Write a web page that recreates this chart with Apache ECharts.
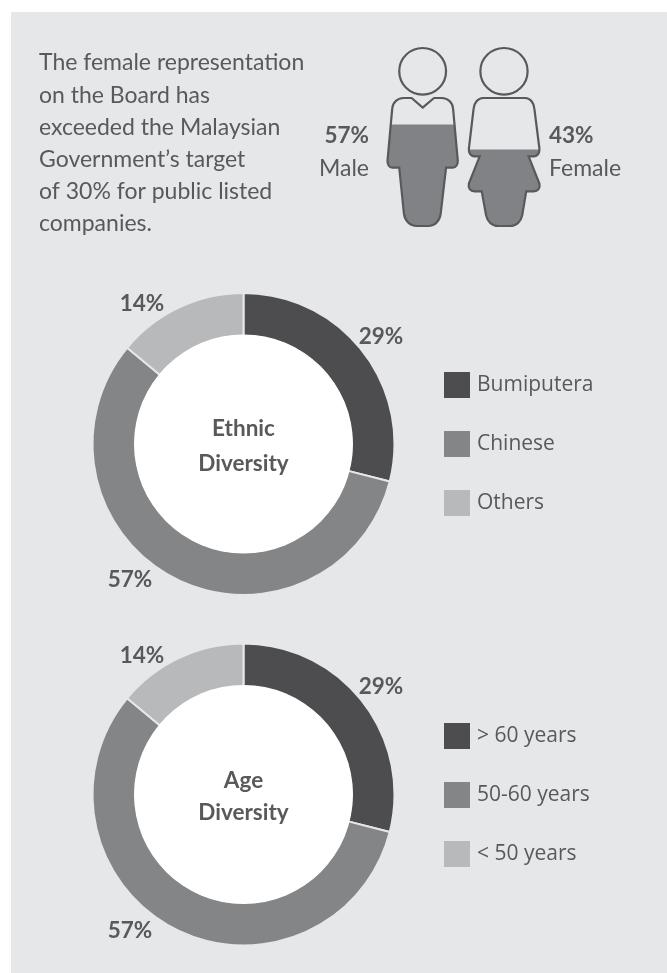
<!DOCTYPE html>
<html><head><meta charset="utf-8">
<script src="https://cdn.jsdelivr.net/npm/echarts@6/dist/echarts.min.js"></script>
<style>html,body{margin:0;padding:0;background:#fff}#c{width:667px;height:973px}</style>
</head><body><div id="c"></div>
<script>
const genderNames = ['Male', 'Female'];
const genderValues = [57, 43];
const ethnicNames = ['Bumiputera', 'Chinese', 'Others'];
const ethnicValues = [29, 57, 14];
const ageNames = ['> 60 years', '50-60 years', '< 50 years'];
const ageValues = [29, 57, 14];
const introLines = ['The female representation', 'on the Board has', 'exceeded the Malaysian', 'Government\u2019s target', 'of 30% for public listed', 'companies.'];

const PANEL = '#e6e7e8', TEXT = '#58595b', DARK = '#4d4d4f', MID = '#848587', LIGHT = '#b8b9bb';
const FONT = 'Lato';
const LEGEND_FONT = 'Open Sans';

const malePath = 'M89.33 41a23.33 23.33 0 1 0 46.67 0a23.33 23.33 0 1 0 -46.67 0Z' +
 'M112.67 77.33L124 67.67L131.67 67.67C138.33 67.67 142.67 72.67 143 78.33L147.67 130C148 134 146 137.33 142.67 137.33L136 137.33L130.67 183.33C129.67 190.67 125 195.67 118.33 195.67L106.67 195.67C100 195.67 95 190.67 94 183.33L89.33 137.33L82.33 137.33C79.33 137.33 77.33 134 77.67 130L82.33 78.33C82.67 72.67 87 67.67 93.67 67.67L101.67 67.67Z';
const femalePath = 'M170.67 41a23.33 23.33 0 1 0 46.67 0a23.33 23.33 0 1 0 -46.67 0Z' +
 'M173.33 67.67L215 67.67C220 67.67 223.67 72.67 224 78.33L229 118.33C229.33 122.67 227.33 126 223.33 126L218.33 126L229 153.33C230 157.67 227.67 161 223.33 161L216 161L212 185C210.67 191.67 206 195.67 200 195.67L188.33 195.67C182.33 195.67 177.67 191.67 176.33 185L172 161L165 161C160.67 161 158.33 157.67 159.33 153.33L170 126L165 126C161 126 159 122.67 159.33 118.33L164 78.33C164.33 72.67 168.33 67.67 173.33 67.67Z';
const figurePaths = [malePath, femalePath];
const figureW = [70.3, 71];

function renderFigure(params, api) {
  const i = api.value(0);
  const base = api.coord([i, 0]);
  const full = api.coord([i, 100]);
  const level = api.coord([i, api.value(1)]);
  const w = figureW[i], h = base[1] - full[1];
  const shape = {pathData: figurePaths[i], x: base[0] - w / 2, y: full[1], width: w, height: h, layout: 'cover'};
  return {type: 'group', children: [
    {type: 'group',
     clipPath: {type: 'rect', shape: {x: base[0] - w, y: level[1], width: w * 2, height: base[1] - level[1] + 4}},
     children: [{type: 'path', shape, style: {fill: '#808285', stroke: null}}]},
    {type: 'path', shape, style: {fill: 'none', stroke: TEXT, lineWidth: 2.2}}
  ]};
}

function txt(x, y, text, o) {
  return {type: 'text', x, y, z: 20, silent: true, style: Object.assign({
    text, fill: TEXT, font: '400 23px ' + FONT, textAlign: 'left', textVerticalAlign: 'middle'}, o || {})};
}
function pie(values, names, cy, pos) {
  return {
    type: 'pie', center: [243.5, cy], radius: [108, 151], startAngle: 90, clockwise: true,
    avoidLabelOverlap: false, silent: true, z: 2,
    itemStyle: {borderColor: PANEL, borderWidth: 2},
    label: {show: true, position: 'outside', formatter: '{c}%', color: TEXT, fontFamily: FONT, fontWeight: 'bold', fontSize: 22.5},
    labelLine: {show: false},
    labelLayout: p => ({x: pos[p.dataIndex][0], y: pos[p.dataIndex][1], align: 'center', verticalAlign: 'middle'}),
    data: values.map((v, i) => ({name: names[i], value: v, itemStyle: {color: [DARK, MID, LIGHT][i]}}))
  };
}
function legend(names, top) {
  return {
    data: names, orient: 'vertical', left: 444, top, padding: 0, itemWidth: 26, itemHeight: 26, itemGap: 33,
    icon: 'rect', selectedMode: false, itemStyle: {borderWidth: 0},
    textStyle: {color: TEXT, fontFamily: LEGEND_FONT, fontSize: 21, padding: [0, 0, 0, 2]}
  };
}

const graphics = [
  {type: 'rect', z: -10, silent: true, shape: {x: 11, y: 12, width: 656, height: 961}, style: {fill: PANEL}},
  {type: 'circle', z: 10, silent: true, shape: {cx: 243.5, cy: 444, r: 109.5}, style: {fill: '#fff'}},
  {type: 'circle', z: 10, silent: true, shape: {cx: 243.5, cy: 794.5, r: 109.5}, style: {fill: '#fff'}},
  txt(243.5, 429, 'Ethnic', {font: '700 22.5px ' + FONT, textAlign: 'center'}),
  txt(243.5, 464, 'Diversity', {font: '700 22.5px ' + FONT, textAlign: 'center'}),
  txt(243.5, 781, 'Age', {font: '700 22.5px ' + FONT, textAlign: 'center'}),
  txt(243.5, 813, 'Diversity', {font: '700 22.5px ' + FONT, textAlign: 'center'}),
  txt(369, 136, genderValues[0] + '%', {font: '700 22.5px ' + FONT, textAlign: 'right'}),
  txt(369, 169, genderNames[0], {textAlign: 'right'}),
  txt(549, 136, genderValues[1] + '%', {font: '700 22.5px ' + FONT}),
  txt(549, 169, genderNames[1])
].concat(introLines.map((l, i) => txt(39, 63 + i * 32.2, l)));

const option = {
  animation: false,
  backgroundColor: '#fff',
  graphic: graphics,
  grid: {left: 381.9, top: 48, width: 163, height: 178},
  xAxis: {type: 'category', data: genderNames, show: false},
  yAxis: {type: 'value', min: 0, max: 100, show: false},
  legend: [legend(ethnicNames, 372), legend(ageNames, 723)],
  series: [
    {type: 'custom', name: 'figures', coordinateSystem: 'cartesian2d', renderItem: renderFigure, silent: true, z: 3, clip: false,
     encode: {x: 0, y: 1}, data: genderValues.map((v, i) => [i, v])},
    pie(ethnicValues, ethnicNames, 444, [[381, 336.5], [130, 579.5], [142, 303.5]]),
    pie(ageValues, ageNames, 794.5, [[381, 686.5], [130, 930.5], [142, 655.5]])
  ]
};
const chart = echarts.init(document.getElementById('c'), null, {renderer: 'canvas'});
chart.setOption(option);
</script></body></html>
